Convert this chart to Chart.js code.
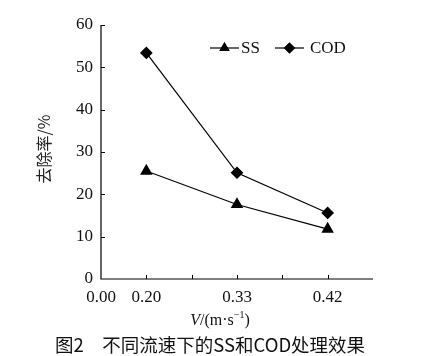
<!DOCTYPE html>
<html>
<head>
<meta charset="utf-8">
<script src="https://cdn.jsdelivr.net/npm/chart.js@4.4.0/dist/chart.umd.min.js"></script>
<style>
html,body{margin:0;padding:0;background:#fff;}
#wrap{width:444px;height:356px;position:relative;}
</style>
</head>
<body>
<div id="wrap"><canvas id="c" width="444" height="356"></canvas></div>
<script>
// ---- data ----
const xTickLabels = ['0.00', '0.20', '', '0.33', '', '0.42', ''];
const xPositions = [1, 3, 5];           // category slots for 0.20, 0.33, 0.42
const ssValues = [25.5, 17.6, 11.8];
const codValues = [53.4, 25.1, 15.6];
const seriesNames = ['SS', 'COD'];
const yTitle = '去除率/%';
const caption = '图2\u3000不同流速下的SS和COD处理效果';

const serif = '"Liberation Serif", "Times New Roman", serif';
const cjk = '"Noto Sans CJK SC", "Noto Sans", sans-serif';

function pts(vals){ return vals.map((v,i)=>({x:xPositions[i], y:v})); }

const decor = {
  id:'decor',
  afterDraw(chart){
    const ctx = chart.ctx;
    const xs = chart.scales.x, ys = chart.scales.y;
    const ca = chart.chartArea;
    ctx.save();
    ctx.strokeStyle = '#000';
    ctx.lineWidth = 1.2;
    // axes lines
    ctx.beginPath();
    ctx.moveTo(ca.left, ys.getPixelForValue(60));
    ctx.lineTo(ca.left, ca.bottom);
    ctx.lineTo(ca.right, ca.bottom);
    ctx.stroke();
    // inward ticks
    ctx.lineWidth = 1;
    ys.ticks.forEach(t=>{
      const y = Math.round(ys.getPixelForValue(t.value))+0.5;
      if (t.value===0) return;
      ctx.beginPath(); ctx.moveTo(ca.left, y); ctx.lineTo(ca.left+4, y); ctx.stroke();
    });
    xs.ticks.forEach(t=>{
      if (t.value===0 || t.value===6) return;
      const x = Math.round(xs.getPixelForValue(t.value))+0.5;
      ctx.beginPath(); ctx.moveTo(x, ca.bottom); ctx.lineTo(x, ca.bottom-4); ctx.stroke();
    });
    // legend
    const ly = 48;
    const items = [
      {x:210, style:'triangle', label:seriesNames[0]},
      {x:275, style:'rectRot', label:seriesNames[1]}
    ];
    items.forEach(it=>{
      ctx.lineWidth = 1.2;
      ctx.beginPath(); ctx.moveTo(it.x, ly); ctx.lineTo(it.x+29, ly); ctx.stroke();
      ctx.fillStyle = '#000';
      Chart.helpers.drawPoint(ctx, {pointStyle:it.style, radius:5, borderWidth:1}, it.x+14.5, ly);
      ctx.fillStyle = '#111';
      ctx.font = '17px ' + serif;
      ctx.textBaseline = 'middle';
      ctx.textAlign = 'left';
      ctx.fillText(it.label, it.x+31 + (it.style==='rectRot'?4:0), ly+1);
    });
    // x axis title with italic V and superscript
    ctx.fillStyle = '#111';
    ctx.textBaseline = 'alphabetic';
    ctx.textAlign = 'left';
    const parts = [
      {t:'V', f:'italic 16px '+serif, dy:0},
      {t:'/(m·s', f:'16px '+serif, dy:0},
      {t:'−1', f:'10px '+serif, dy:-7},
      {t:')', f:'16px '+serif, dy:0}
    ];
    let w = 0;
    parts.forEach(p=>{ ctx.font=p.f; w += ctx.measureText(p.t).width; });
    let x0 = 220 - w/2;
    const by = 325;
    parts.forEach(p=>{ ctx.font=p.f; ctx.fillText(p.t, x0, by+p.dy); x0 += ctx.measureText(p.t).width; });
    // y title rotated
    ctx.save();
    ctx.translate(44, 149);
    ctx.rotate(-Math.PI/2);
    ctx.font = '16px ' + cjk;
    ctx.textAlign = 'center';
    ctx.textBaseline = 'middle';
    ctx.fillStyle = '#222';
    ctx.fillText(yTitle, 0, 0);
    ctx.restore();
    // caption
    ctx.font = '18.5px ' + cjk;
    ctx.textAlign = 'center';
    ctx.textBaseline = 'middle';
    ctx.fillStyle = '#111';
    ctx.fillText(caption, 210, 345);
    ctx.restore();
  }
};

new Chart(document.getElementById('c'), {
  type:'scatter',
  data:{
    datasets:[
      {label:seriesNames[0], data:pts(ssValues), showLine:true, borderColor:'#000', backgroundColor:'#000',
       borderWidth:1.2, pointStyle:'triangle', pointRadius:6, pointHoverRadius:6},
      {label:seriesNames[1], data:pts(codValues), showLine:true, borderColor:'#000', backgroundColor:'#000',
       borderWidth:1.2, pointStyle:'rectRot', pointRadius:5.5, pointHoverRadius:5.5}
    ]
  },
  options:{
    responsive:false,
    animation:false,
    events:[],
    layout:{padding:{left:0, right:71, top:25, bottom:0}},
    plugins:{legend:{display:false}, tooltip:{enabled:false}, title:{display:false}},
    scales:{
      x:{
        type:'linear', min:0, max:6,
        border:{display:false},
        grid:{display:false, drawTicks:false},
        ticks:{stepSize:1, padding:8, color:'#111', font:{family:serif, size:17},
          autoSkip:false, maxRotation:0,
          callback:(v)=> xTickLabels[v] ?? ''},
        afterFit(s){ s.height = 77; }
      },
      y:{
        min:0, max:60,
        border:{display:false},
        grid:{display:false, drawTicks:false},
        ticks:{stepSize:10, padding:8, color:'#111', font:{family:serif, size:17}},
        afterFit(s){ s.width = 101; }
      }
    }
  },
  plugins:[decor]
});
</script>
</body>
</html>
